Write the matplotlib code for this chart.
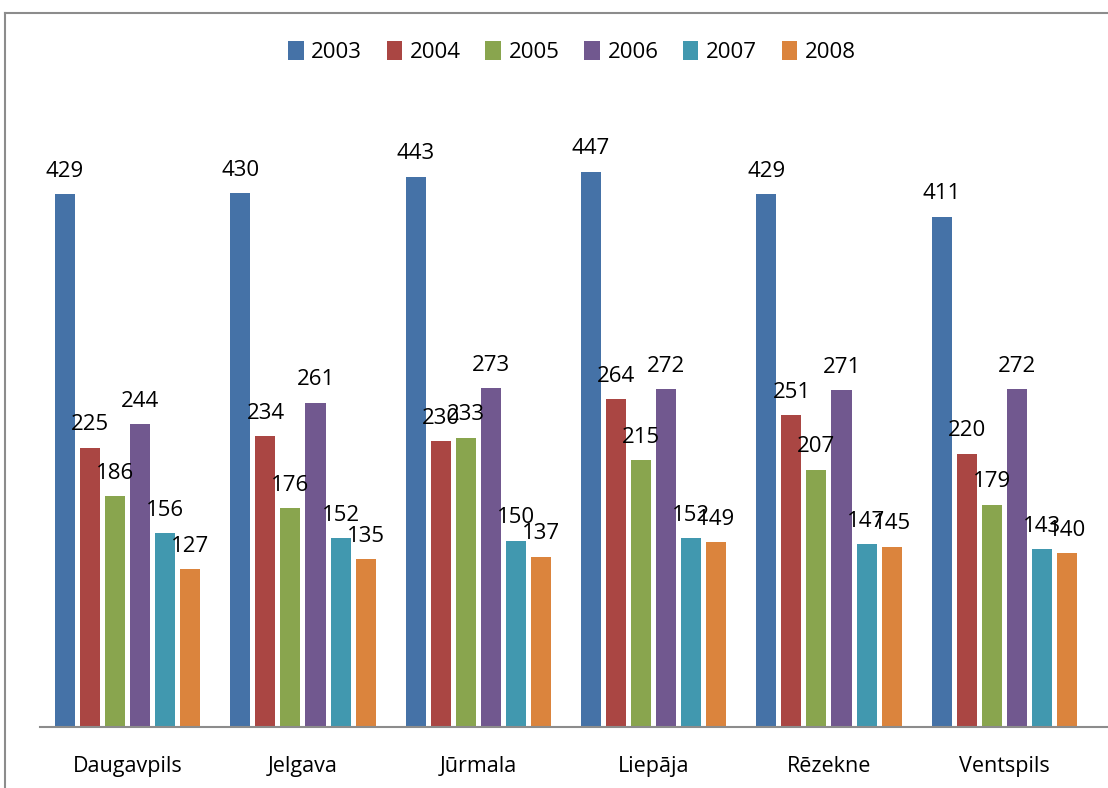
import numpy as np
import matplotlib.pyplot as plt
from matplotlib.lines import Line2D

# Dati
pilsetas = ["Daugavpils", "Jelgava", "Jūrmala", "Liepāja", "Rēzekne", "Ventspils"]
gadi = ["2003", "2004", "2005", "2006", "2007", "2008"]
v2003 = [429, 430, 443, 447, 429, 411]
v2004 = [225, 234, 230, 264, 251, 220]
v2005 = [186, 176, 233, 215, 207, 179]
v2006 = [244, 261, 273, 272, 271, 272]
v2007 = [156, 152, 150, 152, 147, 143]
v2008 = [127, 135, 137, 149, 145, 140]
serijas = [v2003, v2004, v2005, v2006, v2007, v2008]
krasas = ["#4572A7", "#AA4643", "#89A54E", "#71588F", "#4198AF", "#DB843D"]

plt.rcParams['font.family'] = ['Open Sans', 'DejaVu Sans']

fig = plt.figure(figsize=(11.08, 7.88), dpi=100)
W, H = 1108, 788
# plot area (pixel coords)
left, right, top, bottom = 40, 1108, 106, 727
ax = fig.add_axes([left / W, 1 - bottom / H, (right - left) / W, (bottom - top) / H])

x = np.arange(len(pilsetas))
solis = 25 / 175.2
platums = 20 / 175.2
for i, (vals, c) in enumerate(zip(serijas, krasas)):
    pos = x + (i - 2.5) * solis
    ax.bar(pos, vals, width=platums, color=c, label=gadi[i])
    for px, v in zip(pos, vals):
        ax.text(px, v + 10, str(v), ha='center', va='bottom', fontsize=16)

ax.set_xlim(-0.5, 5.5 + 16 / 175.2)
ax.set_ylim(0, 500)
ax.set_xticks(x)
ax.set_xticklabels(pilsetas, fontsize=15.5)
ax.tick_params(axis='x', length=0, pad=21)
ax.set_yticks([])
for s in ['top', 'right', 'left']:
    ax.spines[s].set_visible(False)
ax.spines['bottom'].set_color('#8c8c8c')
ax.spines['bottom'].set_linewidth(1.5)

leg = fig.legend(loc='center', bbox_to_anchor=(572 / W, 1 - 52 / H), ncol=6, frameon=False,
                 fontsize=16, handlelength=0.7, handleheight=0.9, handletextpad=0.35,
                 columnspacing=1.1)

# chart border
fig.add_artist(Line2D([5 / W, 5 / W], [0, 1 - 13 / H], color='#8c8c8c', lw=1.5))
fig.add_artist(Line2D([5 / W, 1], [1 - 13 / H, 1 - 13 / H], color='#8c8c8c', lw=1.5))

fig.savefig("out.png", dpi=100)
